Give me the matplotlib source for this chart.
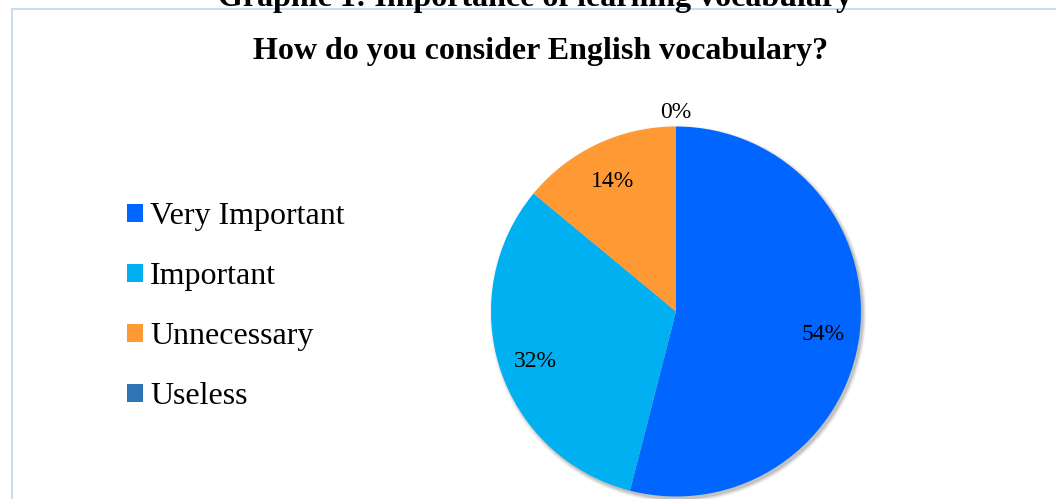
import matplotlib
matplotlib.use("Agg")
import numpy as np
import matplotlib.pyplot as plt
from matplotlib.patches import Circle, Rectangle, Patch

plt.rcParams['font.family'] = ['Liberation Serif', 'DejaVu Serif']

# survey answers
categories = ['Very Important', 'Important', 'Unnecessary', 'Useless']
shares = [54, 32, 14, 0]
colors = ['#0066FF', '#00B0F0', '#FF9933', '#2E75B6']

W, H = 1056, 499
fig = plt.figure(figsize=(W / 100, H / 100), dpi=100)
ax = fig.add_axes([0, 0, 1, 1])

# chart frame (runs off the right and bottom edges)
ax.add_patch(Rectangle((12, -20), W + 40, H - 9 + 20, fill=False,
                       edgecolor='#C6D9F1', linewidth=1.3, zorder=0))

cx, cy, r = 676, H - 311.5, 185

# soft shadow under the pie
for k, a in enumerate([0.10, 0.07, 0.05, 0.03]):
    ax.add_patch(Circle((cx + 2, cy - 2.5), r + 0.5 + k, color='black',
                        alpha=a, linewidth=0, zorder=1))

wedges, _, pcts = ax.pie(shares, colors=colors, startangle=90, counterclock=False,
                         center=(cx, cy), radius=r, autopct='%1.0f%%',
                         pctdistance=0.8, frame=True,
                         textprops=dict(fontsize=17, color='black'),
                         wedgeprops=dict(linewidth=0))
ax.set_xlim(0, W)
ax.set_ylim(0, H)
ax.set_aspect('equal')
ax.axis('off')
for w in wedges:
    w.set_zorder(2)
for t, w in zip(pcts, wedges):
    t.set_zorder(3)
    x, y = t.get_position()
    if w.theta2 - w.theta1 < 1:
        ang = np.deg2rad(w.theta1)
        x, y = cx + 1.1 * r * np.cos(ang), cy + 1.1 * r * np.sin(ang)
    t.set_position((x, y - 4))

# headings
ax.text(535, H - 6, 'Graphic 1: Importance of learning vocabulary', ha='center',
        va='baseline', fontsize=23, fontweight='bold')
ax.text(541, H - 59, 'How do you consider English vocabulary?', ha='center',
        va='baseline', fontsize=23, fontweight='bold')

handles = [Patch(facecolor=c) for c in colors]
ax.legend(handles, categories, loc='upper left', bbox_to_anchor=(127, H - 202),
          bbox_transform=ax.transData, frameon=False, fontsize=23,
          handlelength=0.5, handleheight=0.5, handletextpad=0.22,
          labelspacing=0.97, borderpad=0, borderaxespad=0)

fig.savefig('out.png', dpi=100)
